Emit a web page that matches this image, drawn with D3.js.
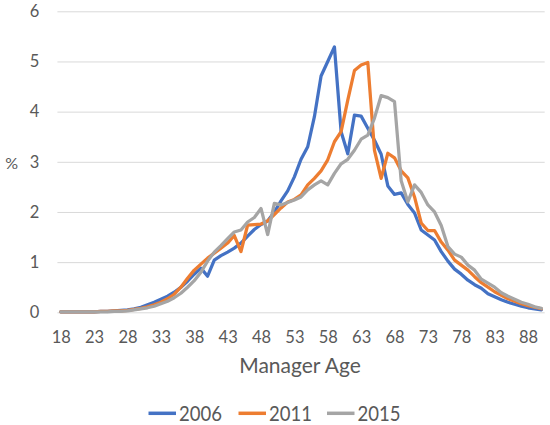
<!DOCTYPE html>
<html>
<head>
<meta charset="utf-8">
<script src="https://cdn.jsdelivr.net/npm/d3@7"></script>
<style>
  html, body { margin: 0; padding: 0; background: #fff; }
  svg { display: block; }
  text { font-family: Lato, "Open Sans", sans-serif; fill: #595959; }
</style>
</head>
<body>
<svg id="chart" width="550" height="425"></svg>
<script>
const ages = d3.range(18, 91);
const yTicks = [0, 1, 2, 3, 4, 5, 6];
const xTickLabels = [18, 23, 28, 33, 38, 43, 48, 53, 58, 63, 68, 73, 78, 83, 88];
const seriesNames = ["2006", "2011", "2015"];

const v2006 = [0.01,0.01,0.01,0.01,0.01,0.01,0.02,0.02,0.03,0.04,0.05,0.07,0.10,0.15,0.20,0.26,0.32,0.40,0.50,0.62,0.76,0.88,0.72,1.04,1.13,1.20,1.28,1.38,1.52,1.65,1.75,1.82,2.00,2.22,2.42,2.70,3.05,3.30,3.90,4.71,5.00,5.29,3.60,3.16,3.93,3.91,3.67,3.43,3.15,2.52,2.35,2.38,2.15,1.98,1.64,1.54,1.44,1.21,1.02,0.86,0.76,0.64,0.55,0.48,0.37,0.31,0.25,0.20,0.16,0.12,0.09,0.07,0.05];
const v2011 = [0.01,0.01,0.01,0.01,0.01,0.01,0.02,0.02,0.03,0.03,0.04,0.06,0.08,0.11,0.15,0.20,0.27,0.36,0.50,0.68,0.84,0.96,1.08,1.18,1.28,1.38,1.53,1.21,1.74,1.75,1.76,1.82,1.95,2.08,2.20,2.25,2.34,2.54,2.67,2.82,3.04,3.40,3.60,4.23,4.82,4.93,4.98,3.23,2.67,3.17,3.08,2.82,2.68,2.30,1.78,1.63,1.63,1.40,1.24,1.04,0.94,0.84,0.71,0.59,0.50,0.41,0.34,0.27,0.22,0.17,0.13,0.10,0.07];
const v2015 = [0.01,0.01,0.01,0.01,0.01,0.01,0.01,0.01,0.02,0.02,0.03,0.05,0.07,0.09,0.12,0.17,0.22,0.29,0.38,0.50,0.63,0.80,1.02,1.20,1.33,1.47,1.60,1.64,1.80,1.89,2.07,1.55,2.17,2.14,2.19,2.24,2.30,2.44,2.54,2.62,2.54,2.77,2.96,3.05,3.23,3.45,3.53,3.87,4.32,4.28,4.20,2.62,2.20,2.54,2.39,2.14,2.00,1.73,1.31,1.16,1.10,0.94,0.84,0.66,0.58,0.50,0.39,0.32,0.26,0.20,0.16,0.11,0.08];
const colors = ["#4472C4", "#ED7D31", "#A5A5A5"];

const series = [v2006, v2011, v2015];
const svg = d3.select("#chart");

const plotLeft = 57.4, plotRight = 544.7, plotTop = 11.3, plotBottom = 312.3;
const x = d3.scalePoint().domain(ages).range([plotLeft, plotRight]).padding(0.5);
const y = d3.scaleLinear().domain([0, 6]).range([plotBottom, plotTop]);

// gridlines + y labels
const yAxis = svg.append("g")
  .attr("transform", `translate(${plotLeft},0)`)
  .call(d3.axisLeft(y).tickValues(yTicks).tickSize(-(plotRight - plotLeft)).tickPadding(18).tickFormat(d3.format("d")));
yAxis.select(".domain").remove();
yAxis.selectAll(".tick line").attr("stroke", "#D9D9D9").attr("stroke-width", 1);
yAxis.selectAll(".tick text").style("font-size", "16.5px").style("fill", "#595959").style("font-family", "Lato, sans-serif");

// x labels
const xAxis = svg.append("g")
  .attr("transform", `translate(0,${plotBottom})`)
  .call(d3.axisBottom(x).tickValues(xTickLabels).tickSize(0).tickPadding(19));
xAxis.select(".domain").remove();
xAxis.selectAll(".tick text").style("font-size", "16.5px").style("fill", "#595959").style("font-family", "Lato, sans-serif");

// lines
const line = d3.line().x((d, i) => x(ages[i])).y(d => y(d));
series.forEach((s, k) => {
  svg.append("path")
    .datum(s)
    .attr("fill", "none")
    .attr("stroke", colors[k])
    .attr("stroke-width", 3.25)
    .attr("stroke-linejoin", "round")
    .attr("stroke-linecap", "round")
    .attr("d", line);
});

// axis titles
svg.append("text").attr("x", 11.7).attr("y", 164.5).attr("text-anchor", "middle")
  .attr("dominant-baseline", "middle").style("font-size", "16px").text("%");
svg.append("text").attr("x", 300).attr("y", 373.3).attr("text-anchor", "middle")
  .style("font-size", "21px").text("Manager Age");

// legend
const legendX = [148.5, 238.5, 327];
seriesNames.forEach((n, k) => {
  const g = svg.append("g").attr("transform", `translate(${legendX[k]},413.3)`);
  g.append("line").attr("x1", 0).attr("x2", 27.5).attr("y1", 0).attr("y2", 0)
    .attr("stroke", colors[k]).attr("stroke-width", 3.5);
  g.append("text").attr("x", 30.5).attr("y", 7.5)
    .attr("textLength", 43).attr("lengthAdjust", "spacingAndGlyphs")
    .style("font-size", "21px").text(n);
});
</script>
</body>
</html>
